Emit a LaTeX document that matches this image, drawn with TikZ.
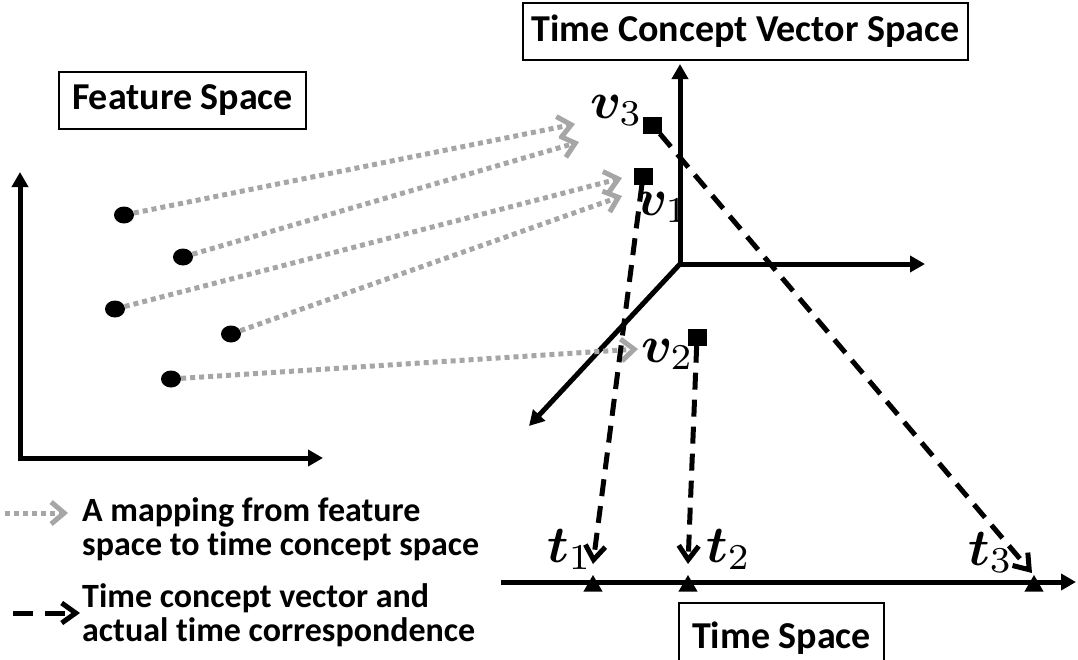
\documentclass[tikz,border=0pt]{standalone}
\usepackage{graphicx}
\usepackage{bm}
\usepackage[no-math]{fontspec}
\setmainfont{Carlito}[RawFeature={-liga;-clig;-calt;-dlig}]
\usetikzlibrary{arrows.meta,shapes.geometric}
\definecolor{mapgray}{HTML}{A6A6A6}
\newcommand{\mlab}[2]{\scalebox{5.2}{$\bm{#1}_{#2}$}}
\begin{document}
\begin{tikzpicture}[x=1pt,y=-1pt,
  axis/.style={line width=5pt,-{Triangle[length=15pt,width=16pt]}},
  faxis/.style={line width=5pt,{Triangle[length=15pt,width=16pt]}-{Triangle[length=15pt,width=16pt]}},
  title/.style={draw,line width=1.5pt,inner sep=0pt,font=\fontsize{38}{44}\selectfont\bfseries},
  dot/.style={ellipse,fill=black,inner sep=0pt,minimum width=20pt,minimum height=17pt},
  vsq/.style={fill=black,inner sep=0pt,minimum width=19pt,minimum height=17pt},
  tri/.style={regular polygon,regular polygon sides=3,fill=black,inner sep=0pt,minimum size=22pt},
  maparrow/.style={draw=mapgray,line width=5pt,dash pattern=on 5pt off 4pt,
     -{Straight Barb[length=13pt,width=22pt,line width=5pt]}},
  corrarrow/.style={draw=black,line width=5pt,dash pattern=on 17pt off 10pt,
     -{Straight Barb[length=14pt,width=20pt,line width=5pt]}},
  mlabel/.style={inner sep=0pt,anchor=base west},
  legend/.style={inner sep=0pt,anchor=west,align=left,font=\fontsize{34}{34}\selectfont\bfseries}
]
\useasboundingbox (0,0) rectangle (1078,659);

% title boxes
\node[title,minimum width=247pt,minimum height=57pt] (fs) at (182.5,100.5) {Feature Space};
\node[title,minimum width=445pt,minimum height=57pt] (tcvs) at (745.5,31.5) {Time Concept Vector Space};
\node[title,minimum width=205pt,minimum height=70pt] (tsp) at (781.5,638) {Time Space};

% feature space axes
\coordinate (fo) at (20,458);
\coordinate (fy) at (20,172);
\coordinate (fx) at (323,458);
\draw[faxis] (fy) -- (fo) -- (fx);

% 3D axes
\coordinate (o3) at (680,264);
\coordinate (z3) at (680,64);
\coordinate (x3) at (925,264);
\coordinate (y3) at (529,426);
\draw[axis] (o3) -- (z3);
\draw[axis] (o3) -- (x3);
\draw[axis] (o3) -- (y3);

% time axis
\coordinate (ts) at (501,582);
\coordinate (te) at (1076,582);
\draw[axis] (ts) -- (te);

% feature points
\node[dot] (d1) at (124,215) {};
\node[dot] (d2) at (183,257) {};
\node[dot] (d3) at (115,309) {};
\node[dot] (d4) at (231,334) {};
\node[dot] (d5) at (171,379) {};

% mapping end points
\coordinate (a1) at (575,124);
\coordinate (a2) at (579,142);
\coordinate (a3) at (622,178);
\coordinate (a4) at (622,196);
\coordinate (a5) at (638,349);
\draw[maparrow] (d1) -- (a1);
\draw[maparrow] (d2) -- (a2);
\draw[maparrow] (d3) -- (a3);
\draw[maparrow] (d4) -- (a4);
\draw[maparrow] (d5) -- (a5);

% concept vectors
\node[vsq] (v3) at (652.5,125) {};
\node[vsq] (v1) at (643,176) {};
\node[vsq] (v2) at (697,337) {};

\node[mlabel] (lv3) at (590,118) {\mlab{v}{3}};
\node[mlabel] (lv1) at (636,215) {\mlab{v}{1}};
\node[mlabel] (lv2) at (641,362) {\mlab{v}{2}};

% time points
\node[tri] (t1) at (593,586) {};
\node[tri] (t2) at (688,586) {};
\node[tri] (t3) at (1034,586) {};

\node[mlabel] (lt1) at (547,562) {\mlab{t}{1}};
\node[mlabel] (lt2) at (706,562) {\mlab{t}{2}};
\node[mlabel] (lt3) at (968,565) {\mlab{t}{3}};

\coordinate (e1) at (593,564);
\coordinate (e2) at (688,564);
\coordinate (e3) at (1032,573);
\draw[corrarrow] (v1) -- (e1);
\draw[corrarrow] (v2) -- (e2);
\draw[corrarrow] (v3) -- (e3);

% legend
\coordinate (g1s) at (5,513);
\coordinate (g1e) at (68,513);
\draw[maparrow] (g1s) -- (g1e);
\node[legend] (leg1) at (82,529) {A mapping from feature\\space to time concept space};
\coordinate (g2s) at (13,613);
\coordinate (g2e) at (80,613);
\draw[corrarrow,dash pattern=on 20pt off 12pt] (g2s) -- (g2e);
\node[legend] (leg2) at (82,615) {Time concept vector and\\actual time correspondence};
\end{tikzpicture}
\end{document}
